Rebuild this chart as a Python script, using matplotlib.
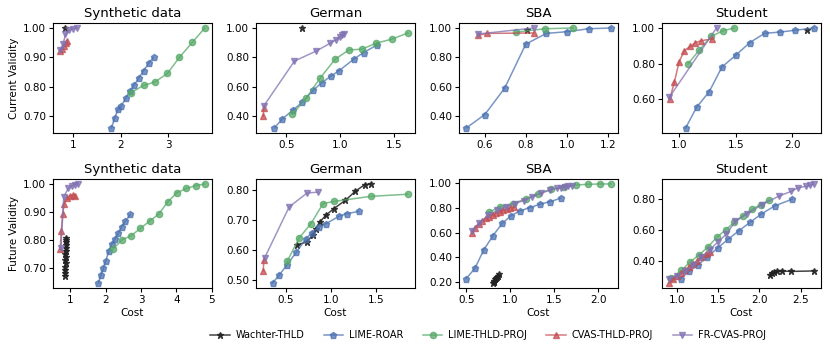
import matplotlib
matplotlib.use("Agg")
import matplotlib.pyplot as plt
from matplotlib.ticker import MultipleLocator, FormatStrFormatter

plt.rcParams['font.family'] = ['DejaVu Sans']

methods = ["Wachter-THLD", "LIME-ROAR", "LIME-THLD-PROJ", "CVAS-THLD-PROJ", "FR-CVAS-PROJ"]
colors = ["#222222", "#4C72B0", "#55A868", "#C44E52", "#8172B2"]
markers = ["*", "p", "o", "^", "v"]
datasets = ["Synthetic data", "German", "SBA", "Student"]

# ---------------- Current validity (top row) ----------------
# Synthetic
cur_syn_wachter_x = [0.83]
cur_syn_wachter_y = [1.00]
cur_syn_roar_x = [1.81, 1.88, 1.95, 2.01, 2.12, 2.20, 2.28, 2.38, 2.48, 2.59, 2.69]
cur_syn_roar_y = [0.659, 0.694, 0.723, 0.733, 0.763, 0.786, 0.804, 0.829, 0.854, 0.880, 0.900]
cur_syn_lime_x = [2.22, 2.48, 2.72, 2.98, 3.23, 3.50, 3.76]
cur_syn_lime_y = [0.780, 0.804, 0.816, 0.845, 0.900, 0.951, 1.000]
cur_syn_cvas_x = [0.74, 0.78, 0.82, 0.86, 0.88]
cur_syn_cvas_y = [0.920, 0.930, 0.940, 0.950, 0.955]
cur_syn_fr_x = [0.74, 0.80, 0.85, 0.93, 1.00, 1.10]
cur_syn_fr_y = [0.925, 0.945, 0.978, 0.993, 0.998, 1.000]

# German
cur_ger_wachter_x = [0.645]
cur_ger_wachter_y = [1.00]
cur_ger_roar_x = [0.389, 0.457, 0.562, 0.648, 0.746, 0.826, 0.909, 0.986, 1.125, 1.214, 1.34]
cur_ger_roar_y = [0.320, 0.379, 0.443, 0.496, 0.576, 0.627, 0.672, 0.709, 0.789, 0.833, 0.885]
cur_ger_lime_x = [0.555, 0.685, 0.814, 0.949, 1.078, 1.20, 1.33, 1.475, 1.623]
cur_ger_lime_y = [0.413, 0.526, 0.661, 0.787, 0.851, 0.856, 0.897, 0.924, 0.966]
cur_ger_cvas_x = [0.285, 0.291]
cur_ger_cvas_y = [0.400, 0.455]
cur_ger_fr_x = [0.291, 0.574, 0.777, 0.906, 0.962, 0.992, 1.017, 1.03]
cur_ger_fr_y = [0.471, 0.775, 0.844, 0.897, 0.920, 0.938, 0.952, 0.957]

# SBA
cur_sba_wachter_x = [0.806]
cur_sba_wachter_y = [0.984]
cur_sba_roar_x = [0.509, 0.600, 0.697, 0.800, 0.900, 1.003, 1.108, 1.215]
cur_sba_roar_y = [0.317, 0.409, 0.590, 0.890, 0.963, 0.975, 0.995, 1.000]
cur_sba_lime_x = [0.752, 0.893, 1.031]
cur_sba_lime_y = [0.972, 0.995, 1.000]
cur_sba_cvas_x = [0.568, 0.610, 0.838]
cur_sba_cvas_y = [0.950, 0.963, 0.966]
cur_sba_fr_x = [0.568, 0.838]
cur_sba_fr_y = [0.959, 1.000]

# Student
cur_stu_wachter_x = [2.134]
cur_stu_wachter_y = [0.990]
cur_stu_roar_x = [1.058, 1.154, 1.267, 1.378, 1.500, 1.625, 1.756, 1.892, 2.023, 2.190]
cur_stu_roar_y = [0.437, 0.553, 0.642, 0.780, 0.846, 0.918, 0.970, 0.977, 0.987, 1.000]
cur_stu_lime_x = [1.078, 1.180, 1.285, 1.390, 1.488]
cur_stu_lime_y = [0.797, 0.877, 0.953, 0.985, 1.000]
cur_stu_cvas_x = [0.919, 0.959, 1.000, 1.047, 1.099, 1.145, 1.195, 1.290]
cur_stu_cvas_y = [0.602, 0.697, 0.809, 0.873, 0.896, 0.918, 0.928, 0.939]
cur_stu_fr_x = [0.913, 1.331]
cur_stu_fr_y = [0.609, 1.000]

# ---------------- Future validity (bottom row) ----------------
# Synthetic
fut_syn_wachter_x = [0.85, 0.86, 0.85, 0.86, 0.87, 0.86, 0.87, 0.86, 0.87, 0.88, 0.87, 0.88, 0.87, 0.88]
fut_syn_wachter_y = [0.672, 0.683, 0.694, 0.705, 0.716, 0.727, 0.738, 0.749, 0.760, 0.771, 0.782, 0.793, 0.800, 0.808]
fut_syn_roar_x = [1.80, 1.87, 1.94, 2.01, 2.09, 2.17, 2.27, 2.36, 2.46, 2.56, 2.70]
fut_syn_roar_y = [0.646, 0.674, 0.698, 0.726, 0.760, 0.784, 0.803, 0.824, 0.848, 0.867, 0.891]
fut_syn_lime_x = [2.21, 2.46, 2.72, 2.98, 3.24, 3.50, 3.76, 4.02, 4.28, 4.54, 4.80]
fut_syn_lime_y = [0.767, 0.800, 0.815, 0.841, 0.867, 0.892, 0.937, 0.969, 0.984, 0.994, 1.000]
fut_syn_cvas_x = [0.72, 0.75, 0.79, 0.83, 0.90, 1.00, 1.09, 1.15]
fut_syn_cvas_y = [0.767, 0.832, 0.891, 0.930, 0.951, 0.958, 0.961, 0.958]
fut_syn_fr_x = [0.74, 0.82, 0.95, 1.05, 1.14, 1.23]
fut_syn_fr_y = [0.770, 0.955, 0.985, 0.993, 0.998, 1.000]

# German
fut_ger_wachter_x = [0.625, 0.735, 0.80, 0.83, 0.875, 0.949, 1.03, 1.16, 1.27, 1.375, 1.44]
fut_ger_wachter_y = [0.618, 0.627, 0.651, 0.671, 0.693, 0.717, 0.737, 0.765, 0.795, 0.817, 0.819]
fut_ger_roar_x = [0.353, 0.426, 0.515, 0.618, 0.720, 0.787, 0.868, 0.949, 1.088, 1.176, 1.309]
fut_ger_roar_y = [0.491, 0.517, 0.552, 0.594, 0.636, 0.658, 0.677, 0.688, 0.712, 0.721, 0.728]
fut_ger_lime_x = [0.515, 0.647, 0.779, 0.912, 1.03, 1.44, 1.85]
fut_ger_lime_y = [0.563, 0.640, 0.688, 0.754, 0.761, 0.778, 0.785]
fut_ger_cvas_x = [0.25, 0.257]
fut_ger_cvas_y = [0.532, 0.566]
fut_ger_fr_x = [0.265, 0.537, 0.735, 0.86]
fut_ger_fr_y = [0.574, 0.743, 0.789, 0.792]

# SBA
fut_sba_wachter_x = [0.80, 0.81, 0.82, 0.83, 0.84, 0.85, 0.86, 0.87]
fut_sba_wachter_y = [0.19, 0.20, 0.21, 0.22, 0.23, 0.24, 0.25, 0.26]
fut_sba_roar_x = [0.50, 0.599, 0.698, 0.80, 0.907, 1.006, 1.108, 1.222, 1.336, 1.454, 1.572]
fut_sba_roar_y = [0.226, 0.310, 0.458, 0.571, 0.674, 0.736, 0.776, 0.803, 0.830, 0.852, 0.879]
fut_sba_lime_x = [0.755, 0.888, 1.032, 1.173, 1.314, 1.458, 1.61, 1.743, 1.876, 2.02, 2.14]
fut_sba_lime_y = [0.765, 0.811, 0.836, 0.873, 0.916, 0.951, 0.973, 0.987, 0.992, 0.995, 0.995]
fut_sba_cvas_x = [0.56, 0.60, 0.64, 0.68, 0.72, 0.76, 0.80, 0.84, 0.88, 0.92, 0.96, 1.00, 1.04]
fut_sba_cvas_y = [0.600, 0.640, 0.670, 0.695, 0.715, 0.730, 0.745, 0.760, 0.770, 0.780, 0.790, 0.800, 0.805]
fut_sba_fr_x = [0.56, 0.65, 0.75, 0.85, 0.95, 1.05, 1.15, 1.25, 1.35, 1.45, 1.53, 1.58, 1.62, 1.66, 1.70]
fut_sba_fr_y = [0.615, 0.680, 0.740, 0.780, 0.810, 0.835, 0.860, 0.890, 0.920, 0.945, 0.960, 0.965, 0.970, 0.975, 0.980]

# Student
fut_stu_wachter_x = [2.13, 2.15, 2.18, 2.22, 2.27, 2.38, 2.66]
fut_stu_wachter_y = [0.310, 0.320, 0.325, 0.330, 0.333, 0.330, 0.333]
fut_stu_roar_x = [1.048, 1.149, 1.261, 1.373, 1.498, 1.622, 1.755, 1.888, 2.024, 2.189, 2.40]
fut_stu_roar_y = [0.283, 0.330, 0.373, 0.423, 0.482, 0.537, 0.593, 0.646, 0.700, 0.753, 0.796]
fut_stu_lime_x = [0.936, 1.056, 1.165, 1.269, 1.382, 1.486, 1.598, 1.699, 1.80, 1.912, 2.016, 2.12]
fut_stu_lime_y = [0.285, 0.336, 0.392, 0.435, 0.490, 0.550, 0.600, 0.648, 0.689, 0.730, 0.761, 0.790]
fut_stu_cvas_x = [0.91, 0.95, 1.00, 1.05, 1.10, 1.15, 1.20, 1.25, 1.30, 1.35, 1.40]
fut_stu_cvas_y = [0.255, 0.280, 0.300, 0.320, 0.340, 0.360, 0.380, 0.400, 0.420, 0.440, 0.455]
fut_stu_fr_x = [0.91, 1.00, 1.10, 1.20, 1.30, 1.40, 1.50, 1.60, 1.71, 1.85, 2.03, 2.24, 2.39, 2.47, 2.56, 2.62, 2.66]
fut_stu_fr_y = [0.280, 0.300, 0.330, 0.370, 0.420, 0.470, 0.520, 0.570, 0.652, 0.700, 0.760, 0.816, 0.847, 0.870, 0.878, 0.886, 0.894]

top = [
    [(cur_syn_wachter_x, cur_syn_wachter_y), (cur_syn_roar_x, cur_syn_roar_y), (cur_syn_lime_x, cur_syn_lime_y), (cur_syn_cvas_x, cur_syn_cvas_y), (cur_syn_fr_x, cur_syn_fr_y)],
    [(cur_ger_wachter_x, cur_ger_wachter_y), (cur_ger_roar_x, cur_ger_roar_y), (cur_ger_lime_x, cur_ger_lime_y), (cur_ger_cvas_x, cur_ger_cvas_y), (cur_ger_fr_x, cur_ger_fr_y)],
    [(cur_sba_wachter_x, cur_sba_wachter_y), (cur_sba_roar_x, cur_sba_roar_y), (cur_sba_lime_x, cur_sba_lime_y), (cur_sba_cvas_x, cur_sba_cvas_y), (cur_sba_fr_x, cur_sba_fr_y)],
    [(cur_stu_wachter_x, cur_stu_wachter_y), (cur_stu_roar_x, cur_stu_roar_y), (cur_stu_lime_x, cur_stu_lime_y), (cur_stu_cvas_x, cur_stu_cvas_y), (cur_stu_fr_x, cur_stu_fr_y)],
]
bottom = [
    [(fut_syn_wachter_x, fut_syn_wachter_y), (fut_syn_roar_x, fut_syn_roar_y), (fut_syn_lime_x, fut_syn_lime_y), (fut_syn_cvas_x, fut_syn_cvas_y), (fut_syn_fr_x, fut_syn_fr_y)],
    [(fut_ger_wachter_x, fut_ger_wachter_y), (fut_ger_roar_x, fut_ger_roar_y), (fut_ger_lime_x, fut_ger_lime_y), (fut_ger_cvas_x, fut_ger_cvas_y), (fut_ger_fr_x, fut_ger_fr_y)],
    [(fut_sba_wachter_x, fut_sba_wachter_y), (fut_sba_roar_x, fut_sba_roar_y), (fut_sba_lime_x, fut_sba_lime_y), (fut_sba_cvas_x, fut_sba_cvas_y), (fut_sba_fr_x, fut_sba_fr_y)],
    [(fut_stu_wachter_x, fut_stu_wachter_y), (fut_stu_roar_x, fut_stu_roar_y), (fut_stu_lime_x, fut_stu_lime_y), (fut_stu_cvas_x, fut_stu_cvas_y), (fut_stu_fr_x, fut_stu_fr_y)],
]

top_xstep = [1.0, 0.5, 0.2, 0.5]
top_ystep = [0.1, 0.2, 0.2, 0.2]
bot_xstep = [1.0, 0.5, 0.5, 0.5]
bot_ystep = [0.1, 0.1, 0.2, 0.2]
top_xfmt = ["%d", "%.1f", "%.1f", "%.1f"]
bot_xfmt = ["%d", "%.1f", "%.1f", "%.1f"]

W, H = 830, 351
fig = plt.figure(figsize=(W / 100, H / 100), dpi=100)
lefts = [53, 256, 459, 662]
aw = 159

def draw(ax, series):
    for i, (xs, ys) in enumerate(series):
        ms = 5 if markers[i] == "*" else 4.5
        ax.plot(xs, ys, color=colors[i], marker=markers[i], markersize=ms,
                linewidth=1.1, alpha=0.75 if i > 0 else 0.85, label=methods[i])

rows = [(top, 23, 133, top_xstep, top_ystep, top_xfmt, "Current Validity", False),
        (bottom, 179, 288, bot_xstep, bot_ystep, bot_xfmt, "Future Validity", True)]
handles = None
for data, ytop, ybot, xsteps, ysteps, xfmts, ylab, is_bottom in rows:
    for c in range(4):
        ax = fig.add_axes([lefts[c] / W, (H - ybot) / H, aw / W, (ybot - ytop) / H])
        draw(ax, data[c])
        ax.set_title(datasets[c], fontsize=9.5, pad=4)
        ax.xaxis.set_major_locator(MultipleLocator(xsteps[c]))
        ax.yaxis.set_major_locator(MultipleLocator(ysteps[c]))
        ax.xaxis.set_major_formatter(FormatStrFormatter(xfmts[c]))
        ax.yaxis.set_major_formatter(FormatStrFormatter("%.2f"))
        ax.tick_params(labelsize=7.5, length=3, width=0.8, pad=2)
        for s in ax.spines.values():
            s.set_linewidth(0.8)
        if c == 0:
            ax.set_ylabel(ylab, fontsize=7.5, labelpad=3)
        if is_bottom:
            ax.set_xlabel("Cost", fontsize=7.5, labelpad=2)
        if handles is None:
            handles, labels = ax.get_legend_handles_labels()

fig.legend(handles, labels, loc="center", bbox_to_anchor=(488 / W, 1 - 335 / H),
           ncol=5, frameon=False, fontsize=7, columnspacing=2.0, handlelength=2.0,
           handletextpad=0.6)

fig.savefig("out.png", dpi=100)
